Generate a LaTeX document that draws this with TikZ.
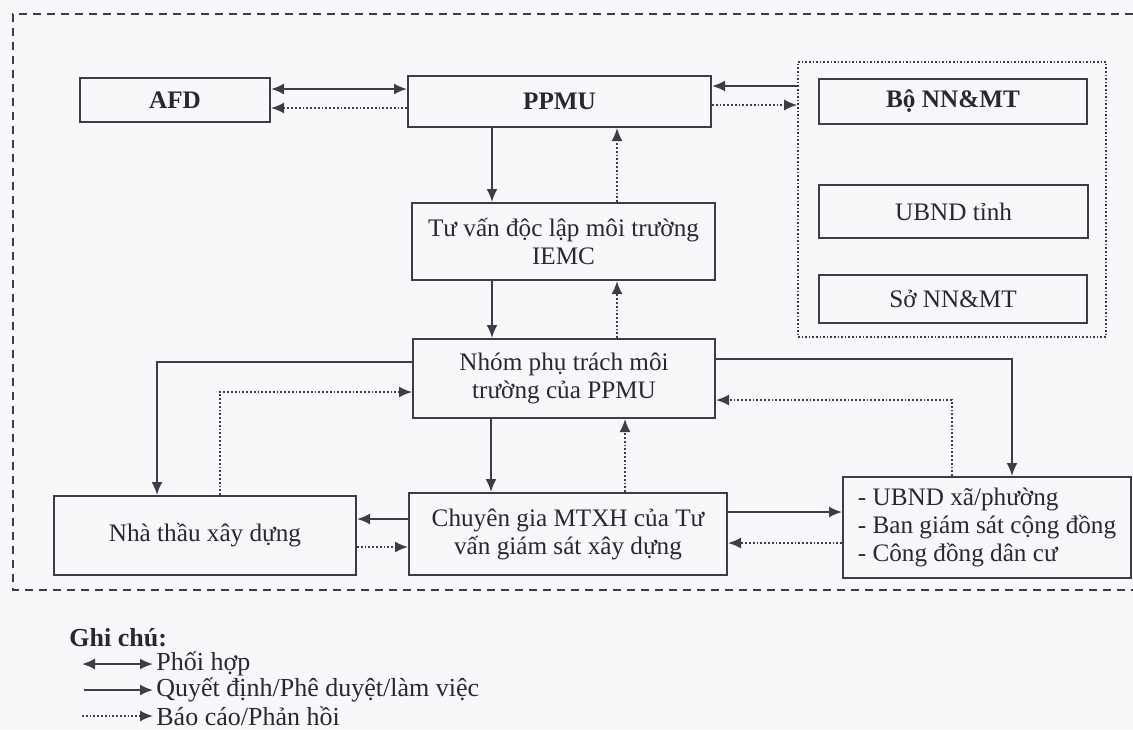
\documentclass[tikz,border=0pt]{standalone}
\usepackage{fontspec}
\setmainfont{Liberation Serif}
\usetikzlibrary{arrows.meta}

\definecolor{ink}{RGB}{58,62,72}
\definecolor{txt}{RGB}{40,40,48}
\definecolor{paper}{RGB}{248,248,250}

\begin{document}
\begin{tikzpicture}[x=0.5pt, y=-0.5pt,
    >={Latex[length=6.5pt,width=5.5pt]},
    every node/.style={font=\fontsize{12.6}{14}\selectfont, text=txt},
    strong/.style={font=\fontsize{12.6}{14}\selectfont\bfseries},
    unit/.style={draw=ink, line width=1pt, inner sep=2pt, align=center},
    decide/.style={draw=ink, line width=1pt},
    report/.style={draw=ink, line width=0.9pt, densely dotted},
    legtext/.style={anchor=west, inner sep=1.5pt, font=\fontsize{13}{15}\selectfont}]

\useasboundingbox (0,0) rectangle (1133,729);
\fill[paper] (0,0) rectangle (1133,729);

% --- outer dashed frame (right side runs off the page) ---
\draw[ink, line width=0.8pt, dash pattern=on 4pt off 3pt]
    (1133,14) -- (13,14) -- (13,590) -- (1133,590);

% --- top row ---
\node[unit, strong, minimum width=95pt, minimum height=22pt] (afd) at (175,100) {AFD};
\node[unit, strong, minimum width=151.5pt, minimum height=25.5pt] (ppmu) at (559.5,101.5) {PPMU};

% --- state agencies (dotted group) ---
\node[draw=ink, line width=0.8pt, densely dotted, minimum width=154pt, minimum height=137.5pt] (grp) at (952,199.5) {};
\node[unit, strong, minimum width=134pt, minimum height=22.5pt] (bo) at (953,101.5) {Bộ NN\&MT};
\node[unit, minimum width=134.5pt, minimum height=26.5pt] (ubt) at (953.5,211.5) {UBND tỉnh};
\node[unit, minimum width=134pt, minimum height=24pt] (so) at (953,299) {Sở NN\&MT};

% --- middle column ---
\node[unit, minimum width=151.5pt, minimum height=38.5pt] (iemc) at (563.5,241.5) {Tư vấn độc lập môi trường\\IEMC};
\node[unit, minimum width=151pt, minimum height=39.5pt] (nhom) at (564,378.5) {Nhóm phụ trách môi\\trường của PPMU};
\node[unit, minimum width=159pt, minimum height=41pt] (cgia) at (568,534) {Chuyên gia MTXH của Tư\\vấn giám sát xây dựng};

% --- bottom row ---
\node[unit, minimum width=151pt, minimum height=39.5pt] (nhathau) at (205,535.5) {Nhà thầu xây dựng};
\node[unit, align=left, minimum width=144pt, minimum height=50.5pt] (cdong) at (987,527.5)
    {- UBND xã/phường\\- Ban giám sát cộng đồng\\- Công đồng dân cư};

% --- AFD / PPMU / agencies ---
\draw[decide, <->] (afd.east |- 0,89) -- (ppmu.west |- 0,89);
\draw[report, ->] (ppmu.west |- 0,108) -- (afd.east |- 0,108);
\draw[decide, ->] (grp.west |- 0,86) -- (ppmu.east |- 0,86);
\draw[report, ->] (ppmu.east |- 0,105) -- (grp.west |- 0,105);

% --- vertical chain ---
\draw[decide, ->] (ppmu.south -| 492,0) -- (iemc.north -| 492,0);
\draw[report, ->] (iemc.north -| 617,0) -- (ppmu.south -| 617,0);
\draw[decide, ->] (iemc.south -| 492,0) -- (nhom.north -| 492,0);
\draw[report, ->] (nhom.north -| 617,0) -- (iemc.south -| 617,0);
\draw[decide, ->] (nhom.south -| 491,0) -- (cgia.north -| 491,0);
\draw[report, ->] (cgia.north -| 625,0) -- (nhom.south -| 625,0);

% --- group to contractor and community ---
\draw[decide, ->] (nhom.west |- 0,362) -| (nhathau.north -| 157,0);
\draw[report, ->] (nhathau.north -| 220,0) |- (nhom.west |- 0,392);
\draw[decide, ->] (nhom.east |- 0,359) -| (cdong.north -| 1012,0);
\draw[report, ->] (cdong.north -| 952,0) |- (nhom.east |- 0,400);

% --- supervision consultant ---
\draw[decide, ->] (cgia.west |- 0,519) -- (nhathau.east |- 0,519);
\draw[report, ->] (nhathau.east |- 0,547) -- (cgia.west |- 0,547);
\draw[decide, ->] (cgia.east |- 0,512) -- (cdong.west |- 0,512);
\draw[report, ->] (cdong.west |- 0,543) -- (cgia.east |- 0,543);

% --- legend ---
\node[legtext, font=\fontsize{13}{15}\selectfont\bfseries] (gchu) at (66,638) {Ghi chú:};
\node[legtext] (lg1) at (153,664) {Phối hợp};
\node[legtext] (lg2) at (153,690) {Quyết định/Phê duyệt/làm việc};
\node[legtext] (lg3) at (153,716) {Báo cáo/Phản hồi};
\coordinate (lg1s) at (82,664);
\coordinate (lg2s) at (84,690);
\coordinate (lg3s) at (82,716);
\draw[decide, <->] (lg1s) -- (lg1.west);
\draw[decide, ->] (lg2s) -- (lg2.west);
\draw[report, ->] (lg3s) -- (lg3.west);

\end{tikzpicture}
\end{document}
